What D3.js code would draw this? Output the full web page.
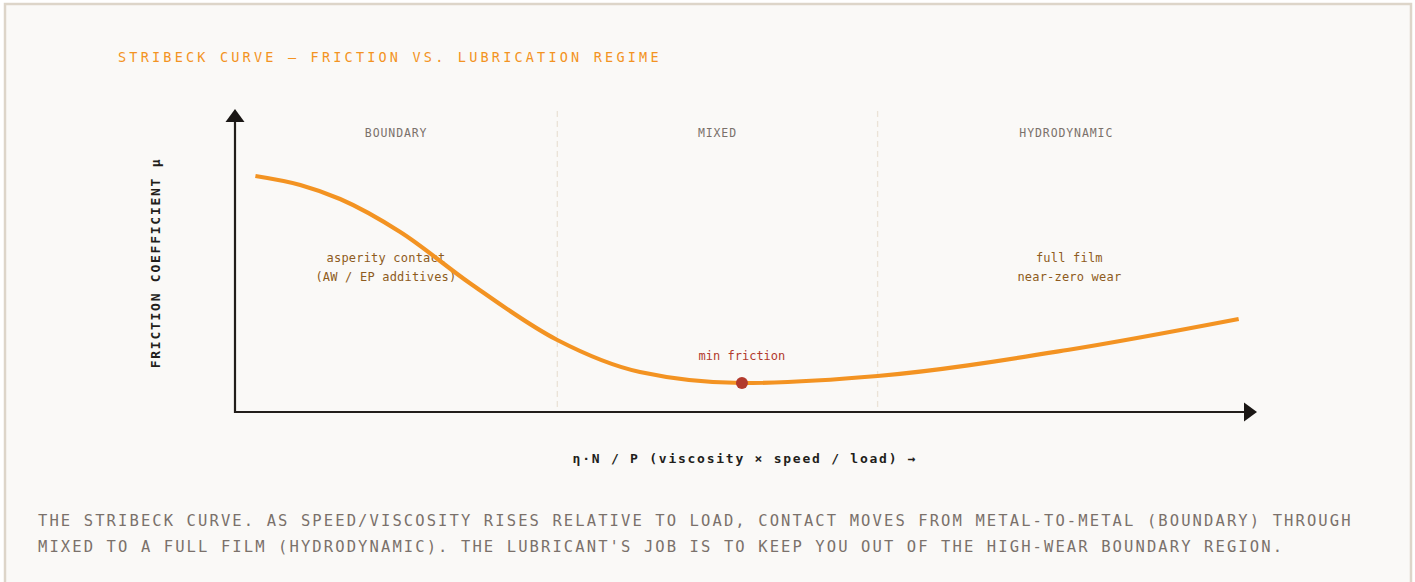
<!DOCTYPE html>
<html>
<head>
<meta charset="utf-8">
<script src="https://cdn.jsdelivr.net/npm/d3@7"></script>
<style>
  body { margin: 0; background: #ffffff; }
  text { font-family: "DejaVu Sans Mono", "Liberation Mono", monospace; }
</style>
</head>
<body>
<div id="chart"></div>
<script>
// Stribeck curve values (x = duty parameter in %, y = friction coefficient)
const xVals = [2, 6.4, 10.3, 16.2, 23.0, 31.6, 39.7, 49.7, 63.0, 81.6, 98.4];
const muVals = [0.118, 0.1135, 0.1065, 0.090, 0.0645, 0.036, 0.020, 0.0145, 0.018, 0.031, 0.0465];

const regimeNames = ["BOUNDARY", "MIXED", "HYDRODYNAMIC"];
const regimeEdges = [0, 31.6, 63, 100];

const minPoint = { x: 49.7, mu: 0.0145, label: "min friction" };
const notes = [
  { x: 14.8, mu: 0.077, lines: ["asperity contact", "(AW / EP additives)"] },
  { x: 81.8, mu: 0.077, lines: ["full film", "near-zero wear"] }
];

const titleText = "STRIBECK CURVE — FRICTION VS. LUBRICATION REGIME";
const yLabel = "FRICTION COEFFICIENT μ";
const xLabel = "η·N / P (viscosity × speed / load) →";
const captionLines = [
  "THE STRIBECK CURVE. AS SPEED/VISCOSITY RISES RELATIVE TO LOAD, CONTACT MOVES FROM METAL-TO-METAL (BOUNDARY) THROUGH",
  "MIXED TO A FULL FILM (HYDRODYNAMIC). THE LUBRICANT'S JOB IS TO KEEP YOU OUT OF THE HIGH-WEAR BOUNDARY REGION."
];

const W = 1415, H = 582;
const margin = { top: 112, right: 160, bottom: 170, left: 235 };

const svg = d3.select("#chart").append("svg")
  .attr("width", W)
  .attr("height", H);

// card
svg.append("rect")
  .attr("x", 5).attr("y", 4)
  .attr("width", 1406).attr("height", 640)
  .attr("fill", "#faf9f7")
  .attr("stroke", "#ddd5c9")
  .attr("stroke-width", 2.5);

const x = d3.scaleLinear().domain([0, 100]).range([margin.left, W - margin.right]);
const y = d3.scaleLinear().domain([0, 0.15]).range([H - margin.bottom, margin.top]);

// title
svg.append("text")
  .attr("x", 118).attr("y", 62)
  .attr("fill", "#f39322")
  .style("font-size", "13.5px")
  .style("letter-spacing", "3.2px")
  .text(titleText);

// regime dividers
svg.append("g").selectAll("line")
  .data(regimeEdges.slice(1, -1))
  .join("line")
  .attr("x1", d => x(d)).attr("x2", d => x(d))
  .attr("y1", y(0.1505)).attr("y2", y(0))
  .attr("stroke", "#ebe3d7")
  .attr("stroke-width", 1.3)
  .attr("stroke-dasharray", "6,4");

// regime labels
svg.append("g").selectAll("text")
  .data(regimeNames)
  .join("text")
  .attr("x", (d, i) => (x(regimeEdges[i]) + x(regimeEdges[i + 1])) / 2)
  .attr("y", 137)
  .attr("text-anchor", "middle")
  .attr("fill", "#7a716b")
  .style("font-size", "11.5px")
  .style("letter-spacing", "0.9px")
  .text(d => d);

// annotations
notes.forEach(n => {
  svg.append("g").selectAll("text")
    .data(n.lines)
    .join("text")
    .attr("x", x(n.x))
    .attr("y", (d, i) => y(n.mu) + 4 + i * 19)
    .attr("text-anchor", "middle")
    .attr("fill", "#8e5b20")
    .style("font-size", "12px")
    .style("letter-spacing", "0.2px")
    .text(d => d);
});

// curve
const line = d3.line()
  .x(d => x(d[0]))
  .y(d => y(d[1]))
  .curve(d3.curveMonotoneX);

svg.append("path")
  .datum(xVals.map((v, i) => [v, muVals[i]]))
  .attr("d", line)
  .attr("fill", "none")
  .attr("stroke", "#f39322")
  .attr("stroke-width", 4.2);

// minimum
svg.append("circle")
  .attr("cx", x(minPoint.x))
  .attr("cy", y(minPoint.mu))
  .attr("r", 6)
  .attr("fill", "#b23a2c");

svg.append("text")
  .attr("x", x(minPoint.x))
  .attr("y", y(minPoint.mu) - 23)
  .attr("text-anchor", "middle")
  .attr("fill", "#b23a2c")
  .style("font-size", "12px")
  .text(minPoint.label);

// axes with arrowheads
const x0 = x(0), y0 = y(0);
const xEnd = x(100) - 10, yTop = y(0.15) + 9;
svg.append("line")
  .attr("x1", x0).attr("x2", xEnd)
  .attr("y1", y0).attr("y2", y0)
  .attr("stroke", "#221e1b").attr("stroke-width", 2.2);
svg.append("line")
  .attr("x1", x0).attr("x2", x0)
  .attr("y1", y0 + 1).attr("y2", yTop)
  .attr("stroke", "#221e1b").attr("stroke-width", 2.2);
svg.append("path")
  .attr("d", `M${xEnd - 1},${y0 - 9.5}L${xEnd + 12},${y0}L${xEnd - 1},${y0 + 9.5}Z`)
  .attr("fill", "#1a1715");
svg.append("path")
  .attr("d", `M${x0 - 9.5},${yTop + 1}L${x0},${yTop - 12}L${x0 + 9.5},${yTop + 1}Z`)
  .attr("fill", "#1a1715");

// axis titles
svg.append("text")
  .attr("transform", `translate(160,${(y(0) + y(0.15)) / 2 + 1}) rotate(-90)`)
  .attr("text-anchor", "middle")
  .attr("fill", "#221e1b")
  .style("font-size", "13px")
  .style("font-weight", "bold")
  .style("letter-spacing", "1.75px")
  .text(yLabel);

svg.append("text")
  .attr("x", 745).attr("y", 463)
  .attr("text-anchor", "middle")
  .attr("fill", "#221e1b")
  .style("font-size", "13px")
  .style("font-weight", "bold")
  .style("letter-spacing", "1.75px")
  .text(xLabel);

// caption
svg.append("g").selectAll("text")
  .data(captionLines)
  .join("text")
  .attr("x", 38)
  .attr("y", (d, i) => 526 + i * 26)
  .attr("fill", "#7a716b")
  .style("font-size", "15.5px")
  .style("letter-spacing", "2.1px")
  .text(d => d);
</script>
</body>
</html>
